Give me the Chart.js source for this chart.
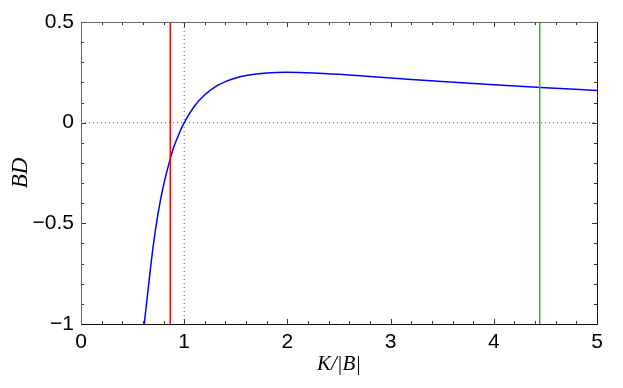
<!DOCTYPE html>
<html>
<head>
<meta charset="utf-8">
<script src="https://cdn.jsdelivr.net/npm/chart.js@4"></script>
<style>
  html, body { margin: 0; padding: 0; background: #fff; }
  #wrap { width: 623px; height: 388px; }
</style>
</head>
<body>
<div id="wrap"><canvas id="myChart" width="623" height="388"></canvas></div>
<script>
// Curve (K/|B| vs BD)
const kb = [0.613, 0.65, 0.7, 0.75, 0.8, 0.87, 0.9, 0.95, 1.0, 1.1, 1.2, 1.3, 1.4, 1.5, 1.6, 1.8, 2.0, 2.25, 2.5, 3.0, 3.5, 4.0, 4.5, 5.0];
const bd = [-1.0, -0.83, -0.61, -0.44, -0.31, -0.17, -0.12, -0.055, 0.0, 0.083, 0.139, 0.178, 0.204, 0.222, 0.234, 0.247, 0.25, 0.247, 0.24, 0.222, 0.204, 0.188, 0.173, 0.16];

// vertical markers
const redX = 0.865;
const greenX = 4.445;
// dotted reference lines
const refX = 1;
const refY = 0;

const xTicks = [0, 1, 2, 3, 4, 5];
const yTicks = [-1, -0.5, 0, 0.5];

const vline = (x) => [{ x: x, y: -1 }, { x: x, y: 0.5 }];

// frame with inward ticks on all four sides (major + minor)
const frameTicks = {
    id: "frameTicks",
    afterDatasetsDraw(chart) {
        const { ctx, chartArea: a, scales } = chart;
        const xs = scales.x, ys = scales.y;
        ctx.save();
        ctx.strokeStyle = "#333";
        ctx.lineWidth = 1;
        ctx.beginPath();
        for (let i = 0; i <= 25; i++) {
            const v = i * 0.2;
            const px = Math.round(xs.getPixelForValue(v)) + 0.5;
            const len = i % 5 === 0 ? 5 : 3;
            ctx.moveTo(px, a.bottom); ctx.lineTo(px, a.bottom - len);
            ctx.moveTo(px, a.top); ctx.lineTo(px, a.top + len);
        }
        for (let i = 0; i <= 15; i++) {
            const v = -1 + i * 0.1;
            const py = Math.round(ys.getPixelForValue(v)) + 0.5;
            const len = i % 5 === 0 ? 5 : 3;
            ctx.moveTo(a.left, py); ctx.lineTo(a.left + len, py);
            ctx.moveTo(a.right, py); ctx.lineTo(a.right - len, py);
        }
        ctx.stroke();
        const L = Math.round(a.left) + 0.5, R = Math.round(a.right) + 0.5;
        const T = Math.round(a.top) + 0.5, B = Math.round(a.bottom) + 0.5;
        ctx.strokeStyle = "#666";
        ctx.beginPath();
        ctx.moveTo(L, B); ctx.lineTo(L, T); ctx.lineTo(R, T);
        ctx.stroke();
        ctx.strokeStyle = "#111";
        ctx.beginPath();
        ctx.moveTo(L, B); ctx.lineTo(R, B); ctx.lineTo(R, T);
        ctx.stroke();
        ctx.restore();
    }
};

const ctx = document.getElementById("myChart").getContext("2d");
const chart = new Chart(ctx, {
    type: "line",
    data: {
        datasets: [
            {
                label: "x = 1",
                data: [{ x: refX, y: -1 }, { x: refX, y: 0.5 }],
                borderColor: "#555",
                borderWidth: 1,
                borderDash: [1, 3],
                pointRadius: 0
            },
            {
                label: "y = 0",
                data: [{ x: 0, y: refY }, { x: 5, y: refY }],
                borderColor: "#555",
                borderWidth: 1,
                borderDash: [1, 3],
                pointRadius: 0
            },
            {
                label: "red",
                data: vline(redX),
                borderColor: "#ff0000",
                borderWidth: 1.5,
                pointRadius: 0
            },
            {
                label: "green",
                data: vline(greenX),
                borderColor: "#2db52d",
                borderWidth: 1.5,
                pointRadius: 0
            },
            {
                label: "BD",
                data: kb.map((x, i) => ({ x: x, y: bd[i] })),
                borderColor: "#0000ff",
                borderWidth: 1.5,
                pointRadius: 0,
                cubicInterpolationMode: "monotone"
            }
        ]
    },
    options: {
        responsive: false,
        animation: false,
        layout: { padding: { top: 22, right: 26, left: 0, bottom: 0 } },
        plugins: { legend: { display: false }, tooltip: { enabled: false } },
        scales: {
            x: {
                type: "linear",
                min: 0,
                max: 5,
                afterFit: (s) => { s.height = 64; },
                afterBuildTicks: (s) => { s.ticks = xTicks.map(v => ({ value: v })); },
                grid: { display: false },
                border: { display: false },
                ticks: {
                    color: "#000",
                    padding: -2,
                    maxRotation: 0,
                    font: { family: "Liberation Sans", size: 21 },
                    callback: (v) => String(v)
                },
                title: {
                    display: true,
                    text: "K/|B|",
                    color: "#000",
                    padding: { top: 0, bottom: 11 },
                    font: { family: "Liberation Serif", size: 21, style: "italic" }
                }
            },
            y: {
                min: -1,
                max: 0.5,
                afterFit: (s) => { s.width = 81; },
                afterBuildTicks: (s) => { s.ticks = yTicks.map(v => ({ value: v })); },
                grid: { display: false },
                border: { display: false },
                ticks: {
                    color: "#000",
                    padding: -1,
                    font: { family: "Liberation Sans", size: 21 },
                    callback: (v) => (v < 0 ? "\u2212" + String(-v) : String(v))
                },
                title: {
                    display: true,
                    text: "BD",
                    color: "#000",
                    padding: { top: 7, bottom: 0 },
                    font: { family: "Liberation Serif", size: 23, style: "italic" }
                }
            }
        }
    },
    plugins: [frameTicks]
});
</script>
</body>
</html>
